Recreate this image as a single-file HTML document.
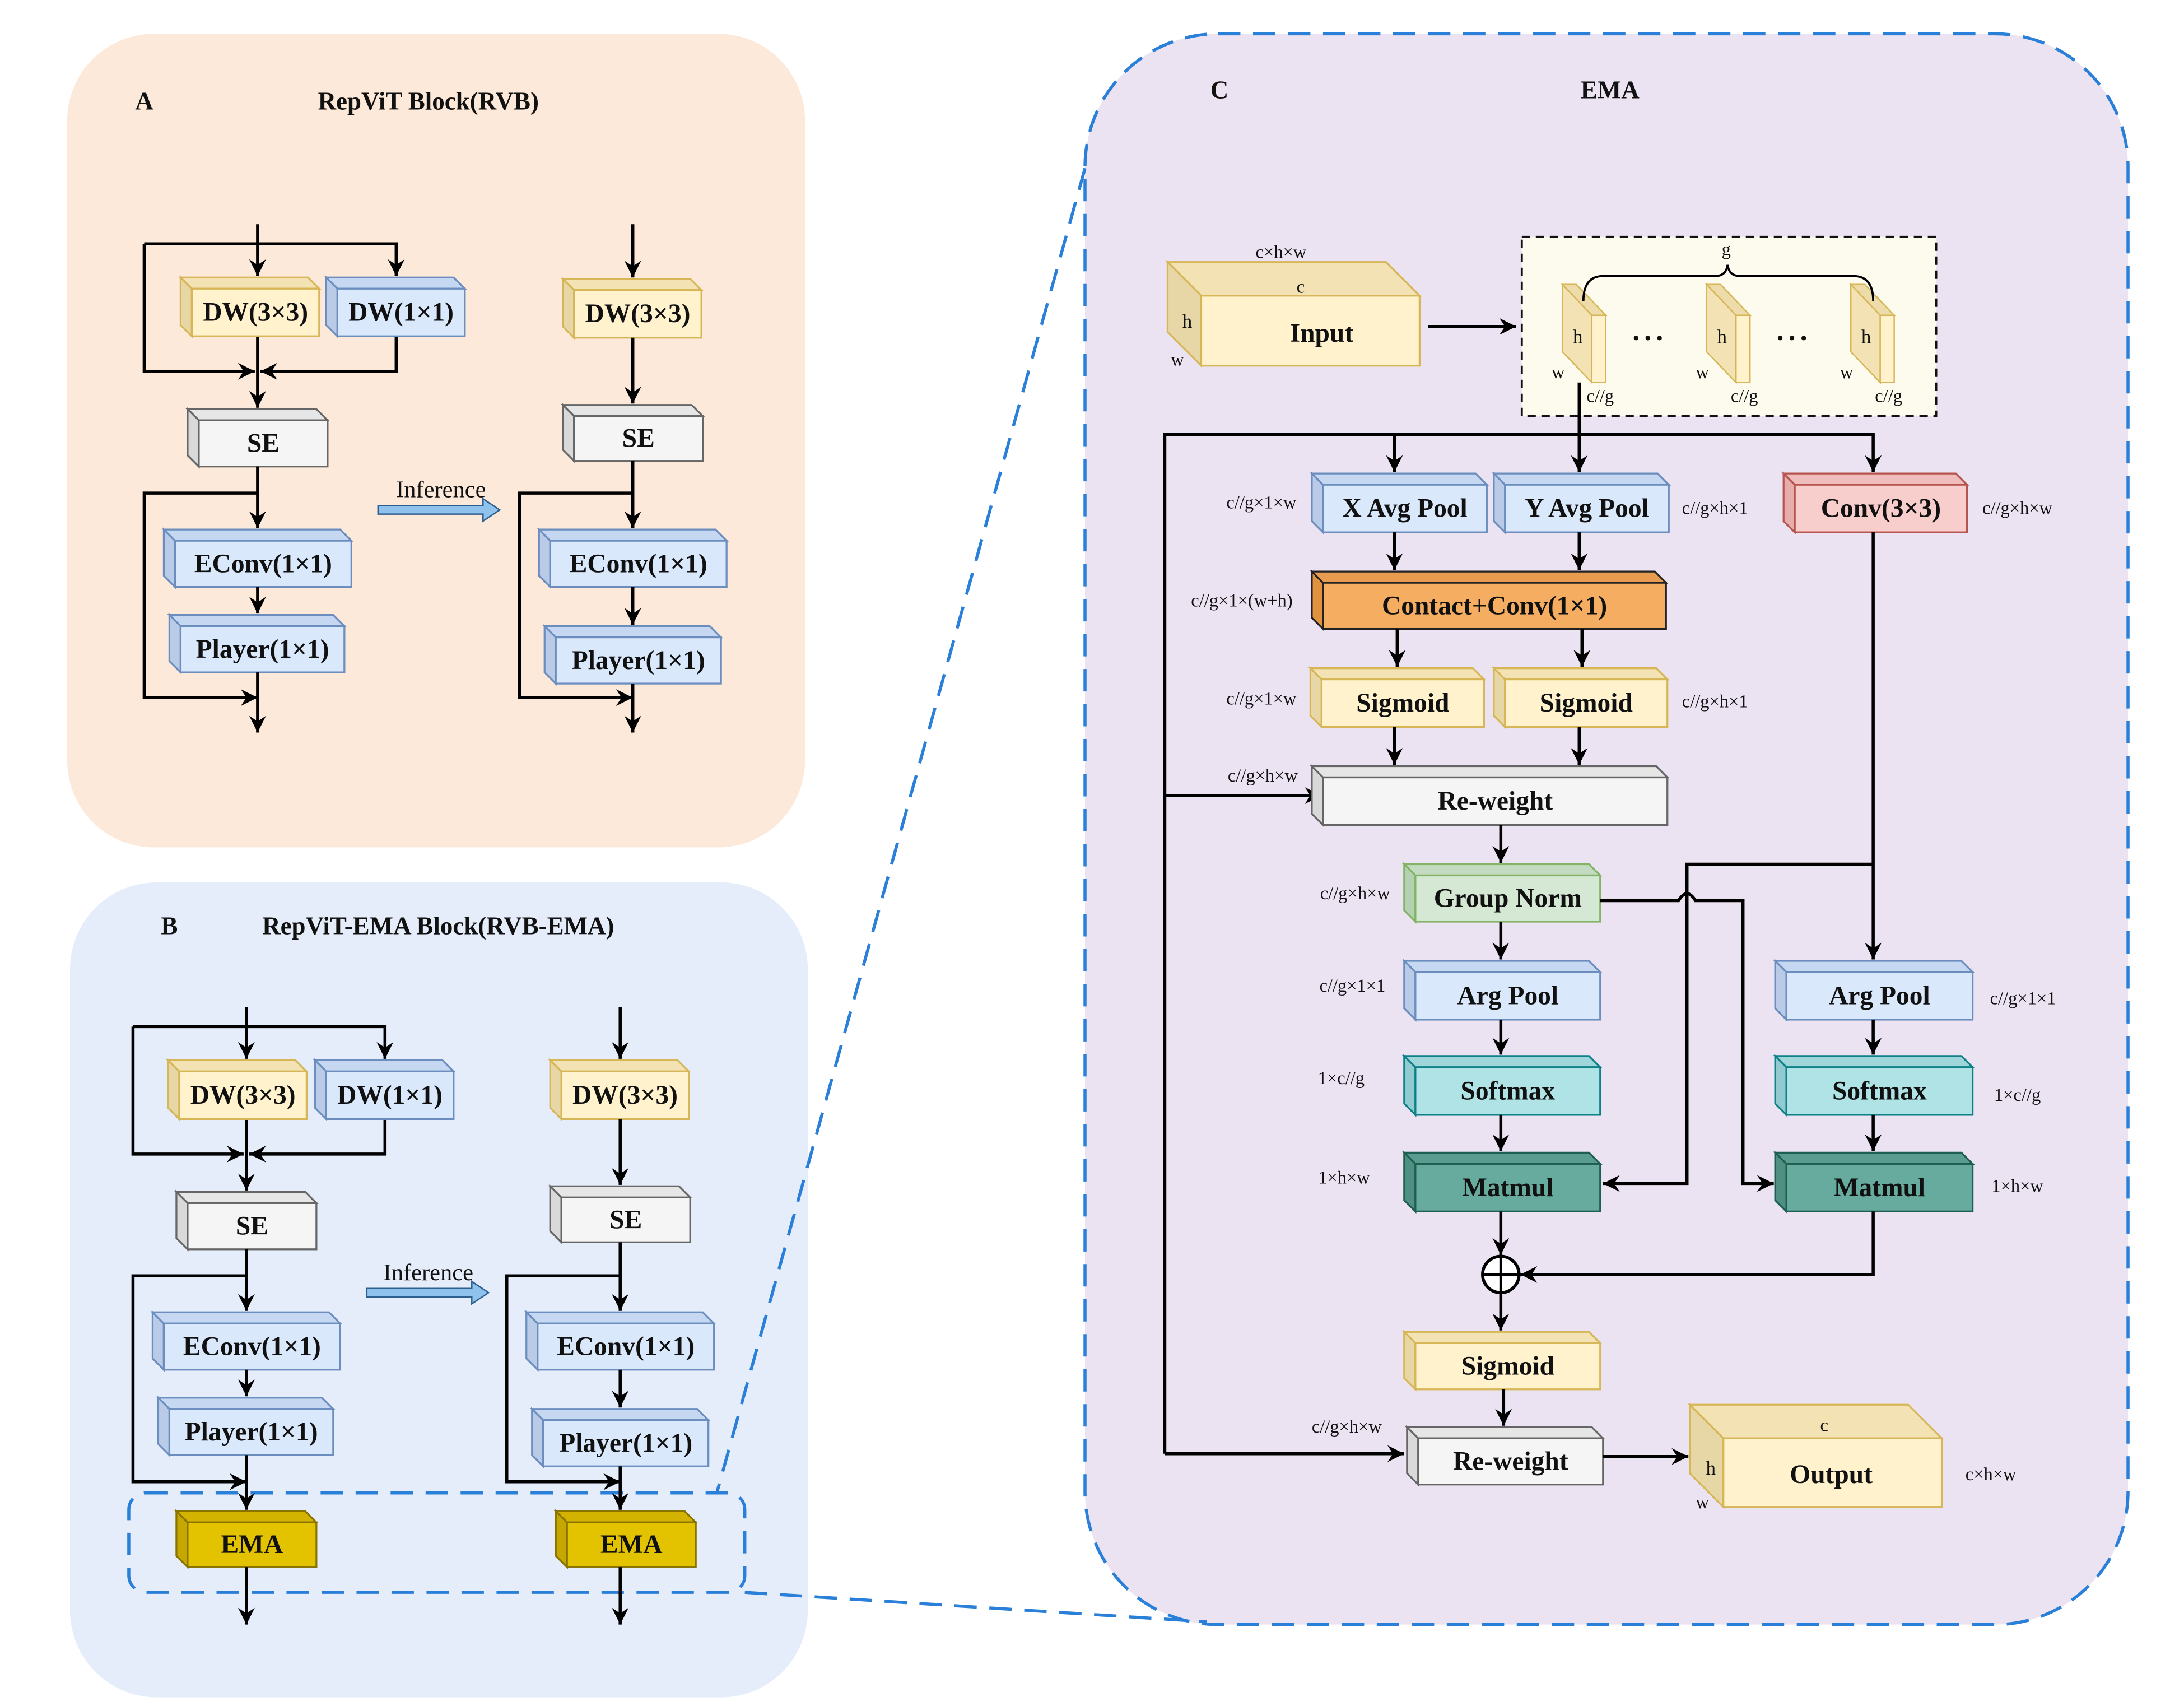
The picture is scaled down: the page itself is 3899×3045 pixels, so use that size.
<!DOCTYPE html>
<html><head><meta charset="utf-8"><style>
html,body{margin:0;padding:0;background:#fff;}
svg{display:block;}
text{font-family:"Liberation Serif",serif;}
</style></head><body>
<svg id="s" xmlns="http://www.w3.org/2000/svg" width="3899" height="3045" viewBox="0 0 1560 1218">
<defs>
<marker id="ah" markerUnits="userSpaceOnUse" markerWidth="14" markerHeight="14" refX="12" refY="7" orient="auto"><path d="M0,1 L12,7 L0,13 L4,7 Z" fill="#000"/></marker>
</defs>
<rect x="0" y="0" width="1560" height="1218" fill="#fff"/>
<rect x="48" y="24" width="527" height="581" rx="62" fill="#fce9d9"/>
<rect x="50" y="630" width="527" height="582" rx="62" fill="#e5edfb"/>
<rect x="775" y="24" width="745" height="1136" rx="95" fill="#ece3f2" stroke="#2a7fd8" stroke-width="2.2" stroke-dasharray="16,9"/>
<rect x="92" y="1066" width="440" height="71" rx="12" fill="none" stroke="#2a7fd8" stroke-width="2.2" stroke-dasharray="16,9"/>
<line x1="775" y1="120" x2="512" y2="1066" stroke="#2a7fd8" stroke-width="2.2" stroke-dasharray="16,9"/>
<line x1="532" y1="1137" x2="862" y2="1158" stroke="#2a7fd8" stroke-width="2.2" stroke-dasharray="16,9"/>
<g id="g"></g>
</svg>
<script>
var out=[];
var C={y:['#fff2cc','#f2e2b4','#e8d7a6','#d6b656'],b:['#dae8fc','#c6d8f1','#b9cbe6','#6c8ebf'],
gr:['#f5f5f5','#e6e6e6','#d9d9d9','#666666'],r:['#f8cecc','#efbdbb','#e6adab','#b85450'],
o:['#f5ad62','#e99c4f','#e0923f','#222'],gn:['#d5e8d4','#c3dcc1','#b5d1b3','#82b366'],
c:['#b0e3e6','#9fd6d9','#92cbcf','#0e8088'],t:['#67ab9f','#5a9d90','#4f9083','#1f5f52'],
e:['#e3c200','#d4b300','#c6a600','#8a7400']};
function box(x,y,w,h,col,label,fs,d){d=d||8;fs=fs||19;var c=C[col];
out.push('<polygon points="'+x+','+y+' '+(x+w-d)+','+y+' '+(x+w)+','+(y+d)+' '+(x+d)+','+(y+d)+'" fill="'+c[1]+'" stroke="'+c[3]+'" stroke-width="1.3"/>');
out.push('<polygon points="'+x+','+y+' '+(x+d)+','+(y+d)+' '+(x+d)+','+(y+h)+' '+x+','+(y+h-d)+'" fill="'+c[2]+'" stroke="'+c[3]+'" stroke-width="1.3"/>');
out.push('<rect x="'+(x+d)+'" y="'+(y+d)+'" width="'+(w-d)+'" height="'+(h-d)+'" fill="'+c[0]+'" stroke="'+c[3]+'" stroke-width="1.3"/>');
if(label)out.push('<text x="'+(x+d/2+w/2)+'" y="'+(y+d/2+h/2+6)+'" font-size="'+fs+'" font-weight="bold" text-anchor="middle" fill="#111">'+label+'</text>');}
function ln(pts,arrow){out.push('<polyline points="'+pts+'" fill="none" stroke="#000" stroke-width="2.2"'+(arrow?' marker-end="url(#ah)"':'')+'/>');}
function tx(x,y,s,fs,bold,anchor){out.push('<text x="'+x+'" y="'+y+'" font-size="'+(fs||14)+'"'+(bold?' font-weight="bold"':'')+' text-anchor="'+(anchor||'middle')+'" fill="#111">'+s+'</text>');}
function infer(x1,x2,y){out.push('<polygon points="'+x1+','+(y-3)+' '+(x2-12)+','+(y-3)+' '+(x2-12)+','+(y-8)+' '+x2+','+y+' '+(x2-12)+','+(y+8)+' '+(x2-12)+','+(y+3)+' '+x1+','+(y+3)+'" fill="#8fc3ee" stroke="#2f5f8f" stroke-width="1"/>');}

function block(dy,L,R,ema){
 var yL=L.dw, x=L.x;
 // left
 ln(x+','+(160+dy)+' '+x+','+(yL-1),1);
 ln((x-81)+','+(174+dy)+' '+(L.x2)+','+(174+dy)+' '+L.x2+','+(yL-1),1);
 ln((x-81)+','+(174+dy)+' '+(x-81)+','+(265+dy)+' '+(x-2)+','+(265+dy),1);
 ln(L.x2+','+(yL+42)+' '+L.x2+','+(265+dy)+' '+(x+2)+','+(265+dy),1);
 ln(x+','+(yL+42)+' '+x+','+(L.se-1),1);
 box(L.dx1,yL,99,42,'y','DW(3×3)');box(L.dx2,yL,99,42,'b','DW(1×1)');
 box(L.sx,L.se,100,41,'gr','SE');
 ln(x+','+(L.se+41)+' '+x+','+(L.ec-1),1);
 ln(x+','+(352+dy)+' '+(x-81)+','+(352+dy)+' '+(x-81)+','+L.loop+' '+x+','+L.loop,1);
 box(L.ex,L.ec,134,41,'b','EConv(1×1)');
 ln(x+','+(L.ec+41)+' '+x+','+(L.pl-1),1);
 box(L.px,L.pl,125,41,'b','Player(1×1)');
 ln(x+','+(L.pl+41)+' '+x+','+L.end,1);
 if(ema){box(x-50,L.em,100,40,'e','EMA');ln(x+','+(L.em+40)+' '+x+','+(L.em+81),1);}
 // right
 var X=R.x;
 ln(X+','+(160+dy)+' '+X+','+(R.dw-1),1);
 box(X-50,R.dw,99,42,'y','DW(3×3)');
 ln(X+','+(R.dw+42)+' '+X+','+(R.se-1),1);
 box(X-50,R.se,100,40,'gr','SE');
 ln(X+','+(R.se+40)+' '+X+','+(R.ec-1),1);
 ln(X+','+(352+dy)+' '+(X-81)+','+(352+dy)+' '+(X-81)+','+R.loop+' '+X+','+R.loop,1);
 box(X-67,R.ec,134,41,'b','EConv(1×1)');
 ln(X+','+(R.ec+41)+' '+X+','+(R.pl-1),1);
 box(X-63,R.pl,126,41,'b','Player(1×1)');
 ln(X+','+(R.pl+41)+' '+X+','+R.end,1);
 if(ema){box(X-46,R.em,100,40,'e','EMA');ln(X+','+(R.em+40)+' '+X+','+(R.em+81),1);}
}
// Panel A
tx(103,78,'A',18,1);tx(306,78,'RepViT Block(RVB)',18,1);
block(0,{x:184,x2:283,dw:198,dx1:129,dx2:233,sx:134,se:292,ec:378,ex:117,pl:439,px:121,loop:498,end:523},
 {x:452,dw:199,se:289,ec:378,pl:447,loop:498,end:523},false);
tx(315,355,'Inference',17);infer(270,357,364);
// Panel B
tx(121,667,'B',18,1);tx(313,667,'RepViT-EMA Block(RVB-EMA)',18,1);
block(559,{x:176,x2:275,dw:757,dx1:120,dx2:225,sx:126,se:851,ec:937,ex:109,pl:998,px:113,loop:1058,end:1078,em:1079},
 {x:443,dw:757,se:847,ec:937,pl:1006,loop:1058,end:1078,em:1079},true);
tx(306,914,'Inference',17);infer(262,349,923);

// Panel C
tx(871,70,'C',18,1);tx(1150,70,'EMA',18,1);
// input
box(834,187,180,74,'y','',19,24);
tx(944,244,'Input',19,1);tx(915,184,'c×h×w',13);tx(929,209,'c',13);tx(848,234,'h',14);tx(841,261,'w',13);
ln('1020,233 1083,233',1);
out.push('<rect x="1087" y="169" width="296" height="128" fill="#fdfbee" stroke="#111" stroke-width="1.5" stroke-dasharray="6,4"/>');
[1116,1219,1322].forEach(function(x){
 out.push('<polygon points="'+x+',203 '+(x+10)+',203 '+(x+31)+',225 '+(x+21)+',225" fill="#eddcaa" stroke="#d6b656" stroke-width="1"/>');
 out.push('<polygon points="'+x+',203 '+(x+21)+',225 '+(x+21)+',273 '+x+',251" fill="#f2e2b4" stroke="#d6b656" stroke-width="1"/>');
 out.push('<rect x="'+(x+21)+'" y="225" width="10" height="48" fill="#fff2cc" stroke="#d6b656" stroke-width="1"/>');
 tx(x+11,245,'h',14);tx(x-3,270,'w',13);tx(x+27,287,'c//g',13);
});
tx(1177,246,'• • •',14);tx(1280,246,'• • •',14);
out.push('<path d="M1131,215 Q1131,197 1145,197 L1225,197 Q1233,197 1234,189 Q1235,197 1243,197 L1324,197 Q1338,197 1338,215" fill="none" stroke="#000" stroke-width="1.5"/>');
tx(1233,182,'g',13);
// bus
ln('1128,273 1128,337',1);
ln('832,1038 832,310 1338,310 1338,337',1);
ln('996,310 996,337',1);
ln('832,568 944,568',1);
ln('832,1038 1003,1038',1);
box(937,338,125,42,'b','X Avg Pool');box(1067,338,125,42,'b','Y Avg Pool');box(1274,338,131,42,'r','Conv(3×3)');
tx(901,363,'c//g×1×w',13);tx(1225,367,'c//g×h×1',13);tx(1441,367,'c//g×h×w',13);
ln('996,380 996,407',1);ln('1128,380 1128,407',1);
box(937,408,253,41,'o','Contact+Conv(1×1)');tx(887,433,'c//g×1×(w+h)',13);
ln('998,449 998,476',1);ln('1130,449 1130,476',1);
box(936,477,124,42,'y','Sigmoid');box(1067,477,124,42,'y','Sigmoid');
tx(901,503,'c//g×1×w',13);tx(1225,505,'c//g×h×1',13);
ln('996,519 996,546',1);ln('1128,519 1128,546',1);
box(937,547,254,42,'gr','Re-weight');tx(902,558,'c//g×h×w',13);
ln('1072,589 1072,616',1);
box(1003,617,140,41,'gn','Group Norm');tx(968,642,'c//g×h×w',13);
ln('1072,658 1072,685',1);
box(1003,686,140,42,'b','Arg Pool');tx(966,708,'c//g×1×1',13);
ln('1072,728 1072,753',1);
box(1003,754,140,42,'c','Softmax');tx(958,774,'1×c//g',13);
ln('1072,796 1072,822',1);
box(1003,823,140,42,'t','Matmul');tx(960,845,'1×h×w',13);
ln('1338,380 1338,685',1);
ln('1338,617 1205,617 1205,845 1145,845',1);
out.push('<path d="M1143,643 L1199,643 Q1205,633 1211,643 L1245,643 L1245,845 L1267,845" fill="none" stroke="#000" stroke-width="2.2" marker-end="url(#ah)"/>');
box(1268,686,141,42,'b','Arg Pool');tx(1445,717,'c//g×1×1',13);
ln('1338,728 1338,753',1);
box(1268,754,141,42,'c','Softmax');tx(1441,786,'1×c//g',13);
ln('1338,796 1338,822',1);
box(1268,823,141,42,'t','Matmul');tx(1441,851,'1×h×w',13);
ln('1072,865 1072,896',1);
ln('1338,865 1338,910 1086,910',1);
out.push('<circle cx="1072" cy="910" r="13" fill="#fff" stroke="#000" stroke-width="2.2"/><line x1="1059" y1="910" x2="1085" y2="910" stroke="#000" stroke-width="2"/><line x1="1072" y1="897" x2="1072" y2="923" stroke="#000" stroke-width="2"/>');
ln('1072,923 1072,950',1);
box(1003,951,140,41,'y','Sigmoid');
ln('1074,992 1074,1018',1);
box(1005,1019,140,41,'gr','Re-weight');tx(962,1023,'c//g×h×w',13);
ln('1145,1040 1206,1040',1);
box(1207,1003,180,73,'y','',19,24);
tx(1308,1059,'Output',19,1);tx(1303,1022,'c',13);tx(1222,1053,'h',14);tx(1216,1077,'w',13);tx(1422,1057,'c×h×w',13);
document.getElementById('g').innerHTML=out.join('');
</script>
</body></html>
